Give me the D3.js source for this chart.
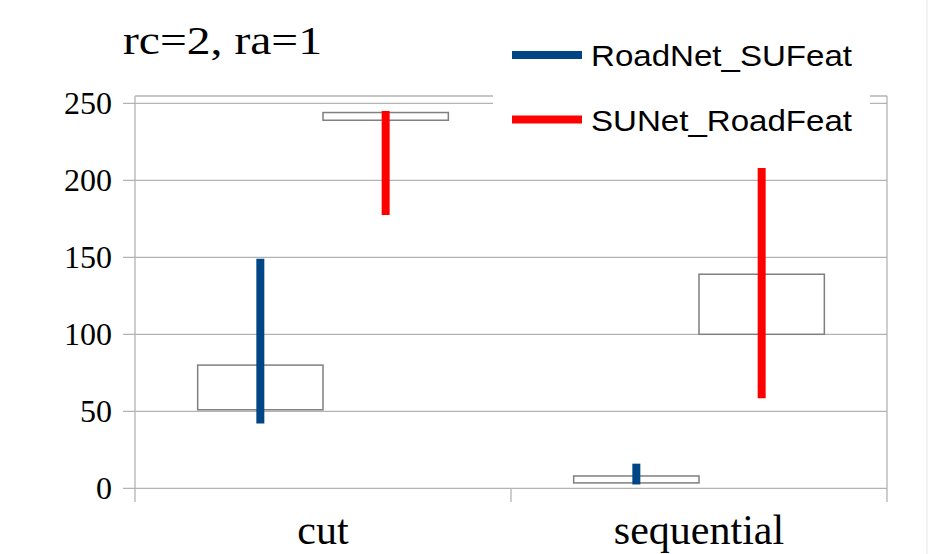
<!DOCTYPE html>
<html>
<head>
<meta charset="utf-8">
<script src="https://cdn.jsdelivr.net/npm/d3@7"></script>
<style>
  body { margin: 0; background: #fff; }
  svg { display: block; }
</style>
</head>
<body>
<script>
var width = 929, height = 554

// chart data
var categories = ["cut", "sequential"]
var series = ["RoadNet_SUFeat", "SUNet_RoadFeat"]
var colors = ["#004586", "#ff0000"]
// per series, per category
var lowValues = [[42, 2.5], [177.5, 58.5]]
var highValues = [[149, 16], [245, 208]]
var openValues = [[51, 3.5], [239, 100]]
var closeValues = [[80, 8], [244, 139]]
var yTicks = [0, 50, 100, 150, 200, 250]

var svg = d3.select("body").append("svg")
    .attr("width", width)
    .attr("height", height)

var plotLeft = 135, plotRight = 887, plotTop = 96

var x = d3.scaleBand().domain(categories).range([plotLeft, plotRight])
var xs = d3.scalePoint().domain(series).range([0, x.bandwidth()]).padding(1)
var y = d3.scaleLinear().domain([0, 250]).range([488.3, 103.3])
var boxW = x.bandwidth() / 3

// gridlines
svg.append("g")
  .selectAll("line")
  .data(yTicks)
  .enter().append("line")
    .attr("x1", plotLeft - 12)
    .attr("x2", plotRight)
    .attr("y1", function(d) { return y(d) })
    .attr("y2", function(d) { return y(d) })
    .attr("stroke", "#b3b3b3")
    .attr("stroke-width", 1.3)

// frame: top, left, right + category ticks
svg.append("line")
  .attr("x1", plotLeft).attr("x2", plotRight)
  .attr("y1", plotTop).attr("y2", plotTop)
  .attr("stroke", "#b3b3b3").attr("stroke-width", 1.3)

var bounds = [plotLeft, x("sequential"), plotRight]
svg.append("g")
  .selectAll("line")
  .data(bounds)
  .enter().append("line")
    .attr("x1", function(d) { return d })
    .attr("x2", function(d) { return d })
    .attr("y1", function(d, i) { return i == 1 ? y(0) : plotTop })
    .attr("y2", 502)
    .attr("stroke", "#b3b3b3")
    .attr("stroke-width", 1.3)

// y labels
svg.append("g")
  .selectAll("text")
  .data(yTicks)
  .enter().append("text")
    .attr("x", 112)
    .attr("y", function(d) { return y(d) + 10.5 })
    .attr("text-anchor", "end")
    .style("font-family", "'Liberation Serif', 'Times New Roman', serif")
    .style("font-size", "32px")
    .attr("fill", "#000")
    .text(function(d) { return d })

// x labels
svg.append("g")
  .selectAll("text")
  .data(categories)
  .enter().append("text")
    .attr("x", function(d) { return x(d) + x.bandwidth() / 2 })
    .attr("y", 544)
    .attr("text-anchor", "middle")
    .style("font-family", "'Liberation Serif', 'Times New Roman', serif")
    .style("font-size", "42px")
    .attr("fill", "#000")
    .text(function(d) { return d })

// boxes (open/close) for each series
series.forEach(function(s, si) {
  svg.append("g")
    .selectAll("rect")
    .data(categories)
    .enter().append("rect")
      .attr("x", function(c) { return x(c) + xs(s) - boxW / 2 })
      .attr("width", boxW)
      .attr("y", function(c, ci) { return y(Math.max(openValues[si][ci], closeValues[si][ci])) })
      .attr("height", function(c, ci) { return Math.abs(y(openValues[si][ci]) - y(closeValues[si][ci])) })
      .attr("fill", "#fff")
      .attr("stroke", "#7f7f7f")
      .attr("stroke-width", 1.5)
})

// high-low lines on top of the boxes
series.forEach(function(s, si) {
  svg.append("g")
    .selectAll("line")
    .data(categories)
    .enter().append("line")
      .attr("x1", function(c) { return x(c) + xs(s) })
      .attr("x2", function(c) { return x(c) + xs(s) })
      .attr("y1", function(c, ci) { return y(lowValues[si][ci]) })
      .attr("y2", function(c, ci) { return y(highValues[si][ci]) })
      .attr("stroke", colors[si])
      .attr("stroke-width", 8)
})

// legend, white backing covers the frame behind it
var legend = svg.append("g")
legend.append("rect")
  .attr("x", 493).attr("y", 30)
  .attr("width", 377).attr("height", 112)
  .attr("fill", "#fff")

var legendY = [55, 119.5]
series.forEach(function(s, i) {
  legend.append("line")
    .attr("x1", 512).attr("x2", 582)
    .attr("y1", legendY[i]).attr("y2", legendY[i])
    .attr("stroke", colors[i])
    .attr("stroke-width", 8)
  legend.append("text")
    .attr("x", 591)
    .attr("y", legendY[i] + 11)
    .attr("textLength", 261)
    .attr("lengthAdjust", "spacingAndGlyphs")
    .style("font-family", "'Liberation Sans', Arial, sans-serif")
    .style("font-size", "29px")
    .attr("fill", "#000")
    .text(s)
})

// title
svg.append("text")
  .attr("x", 123)
  .attr("y", 54)
  .attr("textLength", 199)
  .attr("lengthAdjust", "spacingAndGlyphs")
  .style("font-family", "'Liberation Serif', 'Times New Roman', serif")
  .style("font-size", "39px")
  .attr("fill", "#000")
  .text("rc=2, ra=1")

// faint page edge on the right
svg.append("line")
  .attr("x1", 927).attr("x2", 927)
  .attr("y1", 0).attr("y2", height)
  .attr("stroke", "#e6e6e6")
</script>
</body>
</html>
